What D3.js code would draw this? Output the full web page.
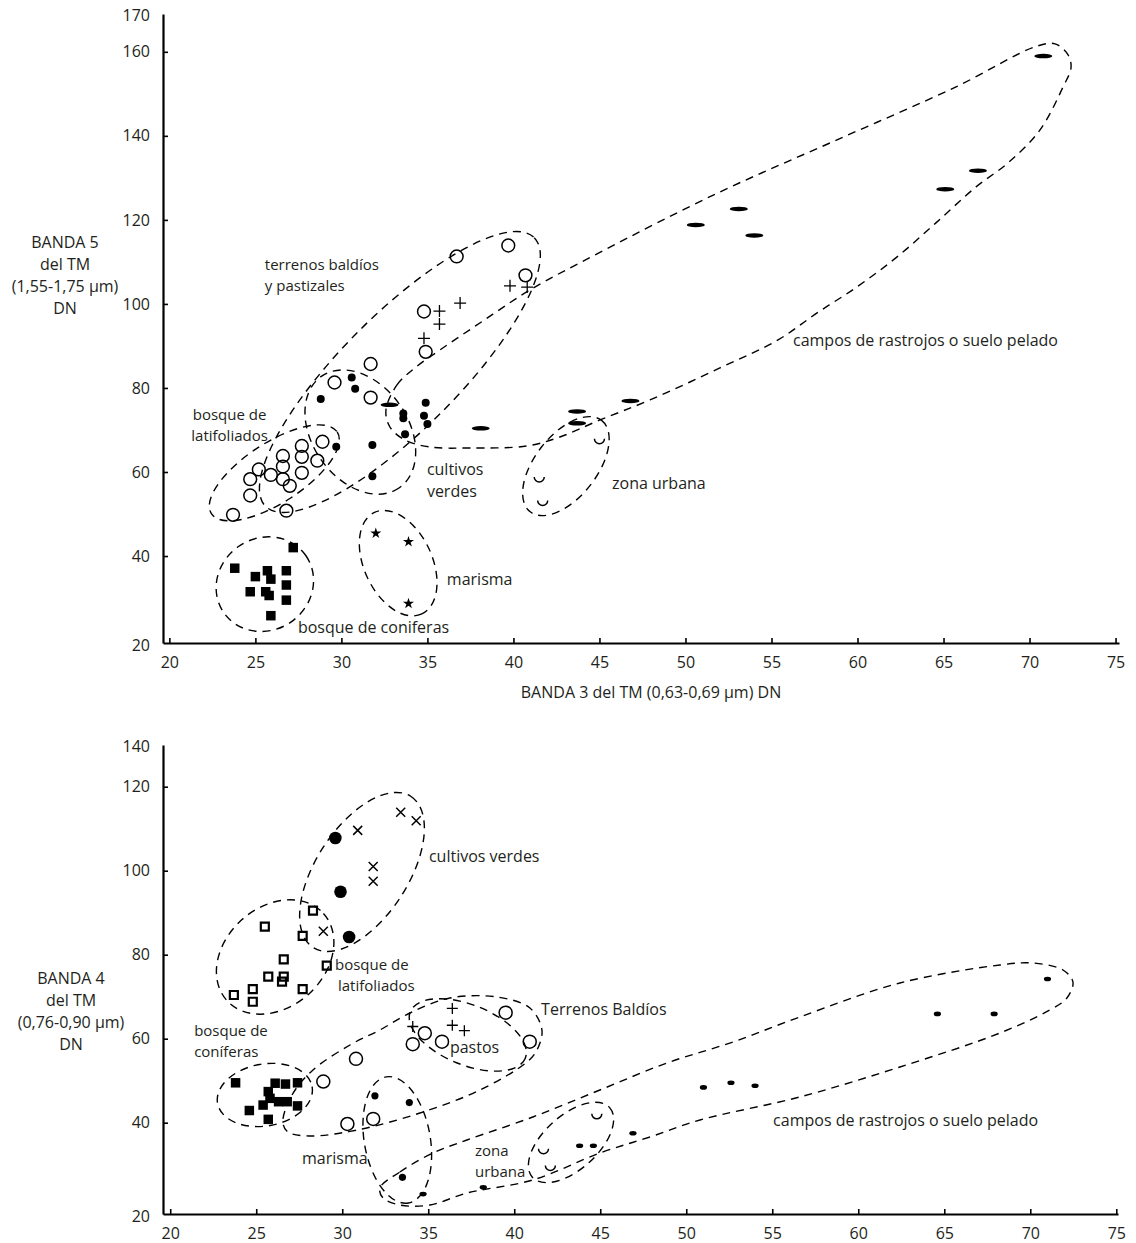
<!DOCTYPE html>
<html lang="es">
<head>
  <meta charset="UTF-8">
  <title>Bandas TM - firmas espectrales</title>
  <script src="https://d3js.org/d3.v7.min.js"></script>
  <style>
    body { margin: 0; background: #fff; }
    svg text { font-family: "Open Sans", sans-serif; fill: #231f20; font-size: 16px; }
    .outline { fill: none; stroke: #000; stroke-width: 1.4; stroke-dasharray: 8,6; }
  </style>
</head>
<body>
  <svg id="chart" width="1136" height="1243"></svg>
  <script>
    // ---- shared axis values ----
    const xTicks = [20, 25, 30, 35, 40, 45, 50, 55, 60, 65, 70, 75];
    const yTicksTop = [40, 60, 80, 100, 120, 140, 160];
    const yTicksBottom = [40, 60, 80, 100, 120];

    // ---- top panel: TM3 (x) vs TM5 (y) ----
    const coniferasB5 = [[27.2,42.0],[23.8,37.1],[25.0,35.1],[25.7,36.5],[25.9,34.5],[26.8,36.5],[26.8,33.1],[24.7,31.5],[25.6,31.5],[25.8,30.6],[26.8,29.5],[25.9,25.8]];
    const marismaB5 = [[32.0,45.4],[33.9,43.4],[33.9,28.7]];
    const latifoliadosB5 = [[23.7,49.8],[24.7,54.4],[24.7,58.3],[25.2,60.6],[25.9,59.3],[26.6,58.3],[26.6,61.3],[26.6,63.8],[27.0,56.7],[26.8,50.8],[27.7,66.2],[27.7,63.6],[27.7,59.8],[28.6,62.7],[28.9,67.2]];
    const baldiosB5 = [[29.6,81.3],[31.7,85.7],[31.7,77.7],[34.9,88.6],[34.8,98.2],[36.7,111.3],[39.7,113.9],[40.7,106.8]];
    const pastizalesB5 = [[35.7,98.3],[36.9,100.2],[35.7,95.2],[34.8,91.8],[39.8,104.3],[40.8,104.0]];
    const cultivosB5 = [[28.8,77.4],[30.6,82.5],[30.8,79.8],[29.7,66.0],[31.8,66.4],[31.8,59.0],[33.6,73.9],[33.6,72.8],[33.7,69.0],[34.9,76.5],[34.8,73.4],[35.0,71.4]];
    const rastrojosB5 = [[32.8,76.0],[38.1,70.4],[43.7,74.4],[43.7,71.6],[46.8,76.9],[50.6,118.8],[53.1,122.6],[54.0,116.3],[65.1,127.3],[67.0,131.7],[70.8,159.0]];
    const urbanaB5 = [[41.5,58.1],[41.7,52.5],[45.0,67.2]];

    // ---- bottom panel: TM3 (x) vs TM4 (y) ----
    const coniferasB4 = [[23.8,49.5],[26.1,49.4],[26.7,49.2],[27.4,49.5],[25.7,47.4],[25.8,45.8],[25.4,44.2],[26.3,45.0],[26.8,45.0],[27.4,44.0],[24.6,42.9],[25.7,40.8]];
    const latifoliadosB4 = [[28.3,90.5],[25.5,86.7],[27.7,84.5],[26.6,78.9],[29.1,77.4],[25.7,74.8],[26.6,74.8],[26.5,73.6],[27.7,71.8],[24.8,71.8],[23.7,70.4],[24.8,68.8]];
    const cultivosB4 = [[29.6,107.8],[29.9,95.0],[30.4,84.2]];
    const cultivosCruzB4 = [[30.9,109.6],[33.4,113.9],[34.3,111.9],[31.8,101.0],[31.8,97.5],[28.9,85.6]];
    const baldiosB4 = [[39.5,66.2],[40.9,59.3],[34.8,61.3],[34.1,58.7],[35.8,59.3],[30.8,55.2],[28.9,49.8],[30.3,39.7],[31.8,40.9]];
    const pastosB4 = [[36.4,67.2],[36.4,63.2],[37.1,61.9],[34.1,62.9]];
    const marismaB4 = [[31.9,46.4],[33.9,44.8],[33.5,27.0]];
    const rastrojosB4 = [[34.7,23.0],[38.2,24.6],[43.8,34.5],[44.6,34.5],[46.9,37.5],[51.0,48.4],[52.6,49.5],[54.0,48.8],[64.6,65.9],[67.9,65.9],[71.0,74.2]];
    const urbanaB4 = [[44.8,41.4],[41.7,33.1],[42.1,29.1]];

    // ---- hand-drawn enclosures (centres / outlines in data units) ----
    const ellipsesTop = [
      { cx: 26.1, cy: 59.8, rx: 75, ry: 30, rot: -33 },   // latifoliados
      { cx: 33.4, cy: 83.8, rx: 190, ry: 58, rot: -45 },  // baldios
      { cx: 31.1, cy: 69.5, rx: 68, ry: 48, rot: 55 },    // cultivos
      { cx: 43.05, cy: 61.4, rx: 58, ry: 31, rot: -52 },  // urbana
      { cx: 25.55, cy: 33.3, rx: 50, ry: 46, rot: -35 },  // coniferas
      { cx: 33.3, cy: 38.3, rx: 56, ry: 34, rot: 65 }     // marisma
    ];
    const rastrojosOutlineTop = [[32.59,74.76],[33.23,80.71],[34.27,84.76],[35.73,89.05],[38.23,95.95],[40.96,103.33],[44.97,112.14],[51.89,126.43],[58.81,139.05],[65.73,151.67],[70.32,161.19],[71.48,161.9],[72.24,159.29],[72.41,156.19],[71.95,151.67],[70.61,141.43],[68.75,133.57],[66.89,127.86],[64.56,119.29],[62.3,111.19],[59.97,104.05],[57.65,97.86],[55.38,91.43],[52.0,84.76],[47.94,77.14],[45.03,72.38],[42.7,68.33],[40.78,66.19],[37.47,65.71],[35.15,65.95],[33.69,67.62],[32.82,70.71]];

    const ellipsesBottom = [
      { cx: 31.15, cy: 99.7, rx: 90, ry: 46, rot: -57 },  // cultivos
      { cx: 26.1, cy: 79.45, rx: 65, ry: 50, rot: -42 },  // latifoliados
      { cx: 25.5, cy: 46.6, rx: 48, ry: 31, rot: -10 },   // coniferas
      { cx: 33.2, cy: 35.9, rx: 64, ry: 33, rot: 80 },    // marisma
      { cx: 37.3, cy: 60.9, rx: 62, ry: 30, rot: 22 },    // pastos
      { cx: 43.3, cy: 35.3, rx: 52, ry: 27, rot: -42 }    // urbana
    ];
    const baldiosOutlineBottom = [[26.55,40.17],[27.08,46.6],[28.3,52.55],[30.45,58.5],[32.19,62.07],[33.94,66.12],[36.26,69.69],[39.0,69.93],[40.91,67.31],[41.61,62.07],[41.32,57.31],[40.74,54.45],[38.01,47.79],[34.52,42.31],[30.86,38.26],[28.12,36.83],[26.84,37.79]];
    const rastrojosOutlineBottom = [[32.19,24.45],[33.35,28.26],[35.27,32.79],[37.25,35.88],[41.08,41.36],[44.98,47.79],[48.87,54.21],[52.71,59.21],[56.6,65.17],[62.42,73.26],[68.24,77.55],[70.15,78.02],[71.9,76.36],[72.48,73.5],[72.13,69.69],[71.14,66.83],[68.24,61.36],[62.42,53.26],[56.6,46.12],[50.8,40.64],[47.89,36.6],[44.98,32.79],[41.08,26.36],[37.25,23.26],[35.1,20.4],[33.35,20.4],[32.37,22.07]];

    // ---- labels (anchor = middle of the text block, data units) ----
    const labelsTop = [
      { t: ["terrenos baldíos", "y pastizales"], x: 25.55, y: 107.1, gap: 21, size: 15 },
      { t: ["bosque de", "latifoliados"], x: 23.5, y: 71.3, a: "middle", gap: 21, size: 15 },
      { t: ["cultivos", "verdes"], x: 34.97, y: 58.1, gap: 22 },
      { t: ["zona urbana"], x: 45.73, y: 57.4 },
      { t: ["marisma"], x: 36.13, y: 34.5 },
      { t: ["bosque de coniferas"], x: 27.47, y: 23.1 },
      { t: ["campos de rastrojos o suelo pelado"], x: 56.25, y: 91.4 }
    ];
    const labelsBottom = [
      { t: ["cultivos verdes"], x: 35.04, y: 103.5 },
      { t: ["bosque de", "latifoliados"], x: 29.58, y: 75.4, gap: 21, dx2: 3, size: 15 },
      { t: ["Terrenos Baldíos"], x: 41.56, y: 67.07 },
      { t: ["pastos"], x: 36.26, y: 58.0 },
      { t: ["bosque de", "coníferas"], x: 21.39, y: 59.6, gap: 21, size: 15 },
      { t: ["marisma"], x: 27.66, y: 31.6 },
      { t: ["zona", "urbana"], x: 37.72, y: 30.9, gap: 21, size: 15 },
      { t: ["campos de rastrojos o suelo pelado"], x: 55.05, y: 40.6 }
    ];

    const svg = d3.select("#chart");
    svg.append("rect").attr("width", 1136).attr("height", 1243).attr("fill", "#fff");

    const xTop = d3.scaleLinear().domain([19.63, 75.2]).range([163, 1119]);
    const yTop = d3.scaleLinear().domain([19.3, 169]).range([643, 14]);
    const xBot = d3.scaleLinear().domain([19.58, 75.1]).range([163, 1118]);
    const yBot = d3.scaleLinear().domain([18.26, 129.93]).range([1214, 745]);

    function drawAxes(x, y, yTicks, yEnds) {
      const g = svg.append("g");
      const y0 = y.range()[0], y1 = y.range()[1], x0 = x.range()[0];
      const ax = g.append("g")
        .attr("transform", `translate(0,${y0})`)
        .call(d3.axisBottom(x).tickValues(xTicks).tickSizeInner(-5).tickSizeOuter(0).tickPadding(14));
      const ay = g.append("g")
        .attr("transform", `translate(${x0},0)`)
        .call(d3.axisLeft(y).tickValues(yTicks).tickSizeInner(-5).tickSizeOuter(0).tickPadding(13));
      [ax, ay].forEach(a => {
        a.attr("font-family", null).attr("font-size", null);
        a.select(".domain").attr("stroke", "#000").attr("stroke-width", 2.2);
        a.selectAll(".tick line").attr("stroke", "#000").attr("stroke-width", 1.6);
      });
      g.selectAll(".end").data([[y0 + 2, yEnds[0]], [y1 + 1, yEnds[1]]]).join("text")
        .attr("x", x0 - 13).attr("y", d => d[0])
        .attr("text-anchor", "end").attr("dominant-baseline", "central")
        .text(d => d[1]);
    }

    function drawEllipses(ells, x, y) {
      svg.append("g").selectAll("ellipse").data(ells).join("ellipse")
        .attr("class", "outline")
        .attr("transform", d => `translate(${x(d.cx)},${y(d.cy)}) rotate(${d.rot})`)
        .attr("rx", d => d.rx).attr("ry", d => d.ry);
    }

    function drawOutline(pts, x, y) {
      const line = d3.line().x(d => x(d[0])).y(d => y(d[1])).curve(d3.curveCatmullRomClosed.alpha(0.5));
      svg.append("path").attr("class", "outline").attr("d", line(pts));
    }

    function marks(data, x, y, shape, style) {
      const g = svg.append("g");
      const sel = g.selectAll("path").data(data).join("path")
        .attr("transform", d => `translate(${x(d[0])},${y(d[1])})`)
        .attr("d", shape);
      Object.entries(style).forEach(([k, v]) => sel.attr(k, v));
    }

    const circleD = r => `M${-r},0A${r},${r} 0 1,0 ${r},0A${r},${r} 0 1,0 ${-r},0Z`;
    const ellipseD = (rx, ry) => `M${-rx},0A${rx},${ry} 0 1,0 ${rx},0A${rx},${ry} 0 1,0 ${-rx},0Z`;
    const squareD = s => `M${-s/2},${-s/2}h${s}v${s}h${-s}Z`;
    const plusD = s => `M${-s},0H${s}M0,${-s}V${s}`;
    const crossD = s => `M${-s},${-s}L${s},${s}M${-s},${s}L${s},${-s}`;
    const cupD = "M-5,-3A5,5 0 0,0 5,-3";
    const starD = d3.symbol(d3.symbolStar, 38)();

    const stroke = w => ({ fill: "none", stroke: "#000", "stroke-width": w });
    const solid = { fill: "#000", stroke: "none" };

    // one text element per line, block centred on the anchor
    function labels(list, x, y) {
      const rows = list.flatMap(d => d.t.map((s, i) => ({
        s, a: d.a || "start", size: d.size || 16,
        px: x(d.x) + (i > 0 && d.dx2 ? d.dx2 : 0),
        py: y(d.y) + (i - (d.t.length - 1) / 2) * (d.gap || 0)
      })));
      svg.append("g").selectAll("text").data(rows).join("text")
        .attr("x", r => r.px).attr("y", r => r.py)
        .attr("text-anchor", r => r.a)
        .attr("dominant-baseline", "central")
        .style("font-size", r => r.size + "px")
        .text(r => r.s);
    }

    // ===== top panel =====
    drawAxes(xTop, yTop, yTicksTop, ["20", "170"]);
    drawEllipses(ellipsesTop, xTop, yTop);
    drawOutline(rastrojosOutlineTop, xTop, yTop);
    marks(coniferasB5, xTop, yTop, squareD(9.5), solid);
    marks(marismaB5, xTop, yTop, starD, solid);
    marks(latifoliadosB5, xTop, yTop, circleD(6.4), stroke(1.5));
    marks(baldiosB5, xTop, yTop, circleD(6.4), stroke(1.5));
    marks(pastizalesB5, xTop, yTop, plusD(6), stroke(1.3));
    marks(cultivosB5, xTop, yTop, circleD(4), solid);
    marks(rastrojosB5, xTop, yTop, ellipseD(9, 2.3), solid);
    marks(urbanaB5, xTop, yTop, cupD, stroke(1.5));
    labels(labelsTop, xTop, yTop);

    svg.append("text").attr("x", (xTop.range()[0] + xTop.range()[1]) / 2 + 10).attr("y", 692)
      .attr("text-anchor", "middle").attr("dominant-baseline", "central")
      .text("BANDA 3 del TM (0,63-0,69 µm) DN");
    svg.append("g").selectAll("text").data(["BANDA 5", "del TM", "(1,55-1,75 µm)", "DN"]).join("text")
      .attr("x", 65).attr("y", (d, i) => 242 + i * 22)
      .attr("text-anchor", "middle").attr("dominant-baseline", "central").text(d => d);

    // ===== bottom panel =====
    drawAxes(xBot, yBot, yTicksBottom, ["20", "140"]);
    drawEllipses(ellipsesBottom, xBot, yBot);
    drawOutline(baldiosOutlineBottom, xBot, yBot);
    drawOutline(rastrojosOutlineBottom, xBot, yBot);
    marks(coniferasB4, xBot, yBot, squareD(9.5), solid);
    marks(latifoliadosB4, xBot, yBot, squareD(8), stroke(2.2));
    marks(cultivosB4, xBot, yBot, circleD(6.3), solid);
    marks(cultivosCruzB4, xBot, yBot, crossD(4.5), stroke(1.5));
    marks(baldiosB4, xBot, yBot, circleD(6.5), stroke(1.5));
    marks(pastosB4, xBot, yBot, plusD(5.5), stroke(1.3));
    marks(marismaB4, xBot, yBot, circleD(3.6), solid);
    marks(rastrojosB4, xBot, yBot, ellipseD(3.6, 2.3), solid);
    marks(urbanaB4, xBot, yBot, cupD, stroke(1.5));
    labels(labelsBottom, xBot, yBot);

    svg.append("g").selectAll("text").data(["BANDA 4", "del TM", "(0,76-0,90 µm)", "DN"]).join("text")
      .attr("x", 71).attr("y", (d, i) => 978 + i * 22)
      .attr("text-anchor", "middle").attr("dominant-baseline", "central").text(d => d);
  </script>
</body>
</html>
